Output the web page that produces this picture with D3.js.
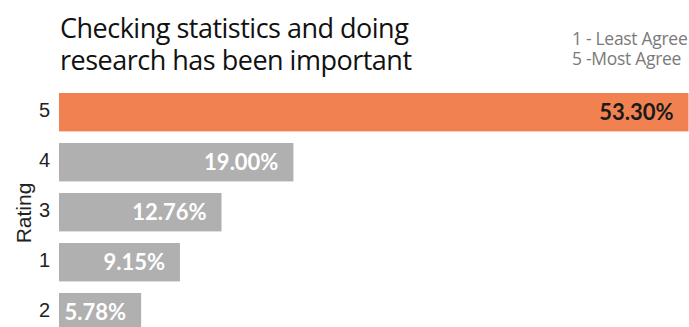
<!DOCTYPE html>
<html>
<head>
<meta charset="utf-8">
<script src="https://cdn.jsdelivr.net/npm/d3@7"></script>
<style>
  html, body { margin: 0; padding: 0; background: #fff; }
  svg { display: block; }
</style>
</head>
<body>
<svg id="chart" width="689" height="327"></svg>
<script>
// Survey ratings, ordered by share of responses
const ratings = ["5", "4", "3", "1", "2"];
const shares = [53.30, 19.00, 12.76, 9.15, 5.78];
const valueLabels = ["53.30%", "19.00%", "12.76%", "9.15%", "5.78%"];
const titleLines = ["Checking statistics and doing", "research has been important"];
const legendLines = ["1 - Least Agree", "5 -Most Agree"];
const highlight = "5";

const svg = d3.select("#chart");

// Value axis starts a little below zero so the smallest bar still fits its label
const x = d3.scaleLinear().domain([-1.35, 53.3]).range([59, 688.5]);
const x0 = x.range()[0];
// 50px per row, bars about 38px tall
const y = d3.scaleBand().domain(ratings).range([93, 93 + 50 * (5 - 0.232)])
  .paddingInner(0.232).paddingOuter(0);

const data = ratings.map((r, i) => ({ r, v: shares[i], label: valueLabels[i] }));

// Two-line title as one text block
svg.append("text")
  .attr("font-family", "'Open Sans', sans-serif")
  .attr("font-size", 27)
  .attr("letter-spacing", -0.5)
  .attr("fill", "#111")
  .selectAll("tspan").data(titleLines).join("tspan")
  .attr("x", 60).attr("y", (d, i) => 38 + i * 32)
  .text(d => d);

// Legend note for the rating scale
svg.append("text")
  .attr("font-family", "'Open Sans', sans-serif")
  .attr("font-size", 17.5)
  .attr("letter-spacing", -0.3)
  .attr("fill", "#7a7a7a")
  .selectAll("tspan").data(legendLines).join("tspan")
  .attr("x", 572).attr("y", (d, i) => 45 + i * 20)
  .text(d => d);

// Bars
svg.append("g").selectAll("rect").data(data).join("rect")
  .attr("x", x0)
  .attr("y", d => y(d.r))
  .attr("width", d => x(d.v) - x0)
  .attr("height", y.bandwidth())
  .attr("fill", d => d.r === highlight ? "#F28152" : "#B0B0B0");

// Value labels inside bars
svg.append("g").selectAll("text").data(data).join("text")
  .attr("x", d => x(d.v) - 15)
  .attr("y", d => y(d.r) + y.bandwidth() / 2)
  .attr("dy", "0.36em")
  .attr("text-anchor", "end")
  .attr("font-family", "Lato, sans-serif")
  .attr("font-weight", 700)
  .attr("font-size", 22)
  .attr("fill", d => d.r === highlight ? "#1a1a1a" : "#fff")
  .text(d => d.label);

// Category axis
const yAxis = d3.axisLeft(y).tickSize(0).tickPadding(9);
const gy = svg.append("g").attr("transform", `translate(${x0},0)`).call(yAxis);
gy.select(".domain").remove();
gy.selectAll("text")
  .attr("font-family", "'Liberation Sans', Arial, sans-serif")
  .attr("font-size", 20)
  .attr("fill", "#222")
  .attr("dy", "0.24em");

// Axis title
svg.append("text")
  .attr("transform", "translate(31,213) rotate(-90)")
  .attr("text-anchor", "middle")
  .attr("font-family", "'Liberation Sans', Arial, sans-serif")
  .attr("font-size", 21)
  .attr("fill", "#222")
  .text("Rating");
</script>
</body>
</html>
